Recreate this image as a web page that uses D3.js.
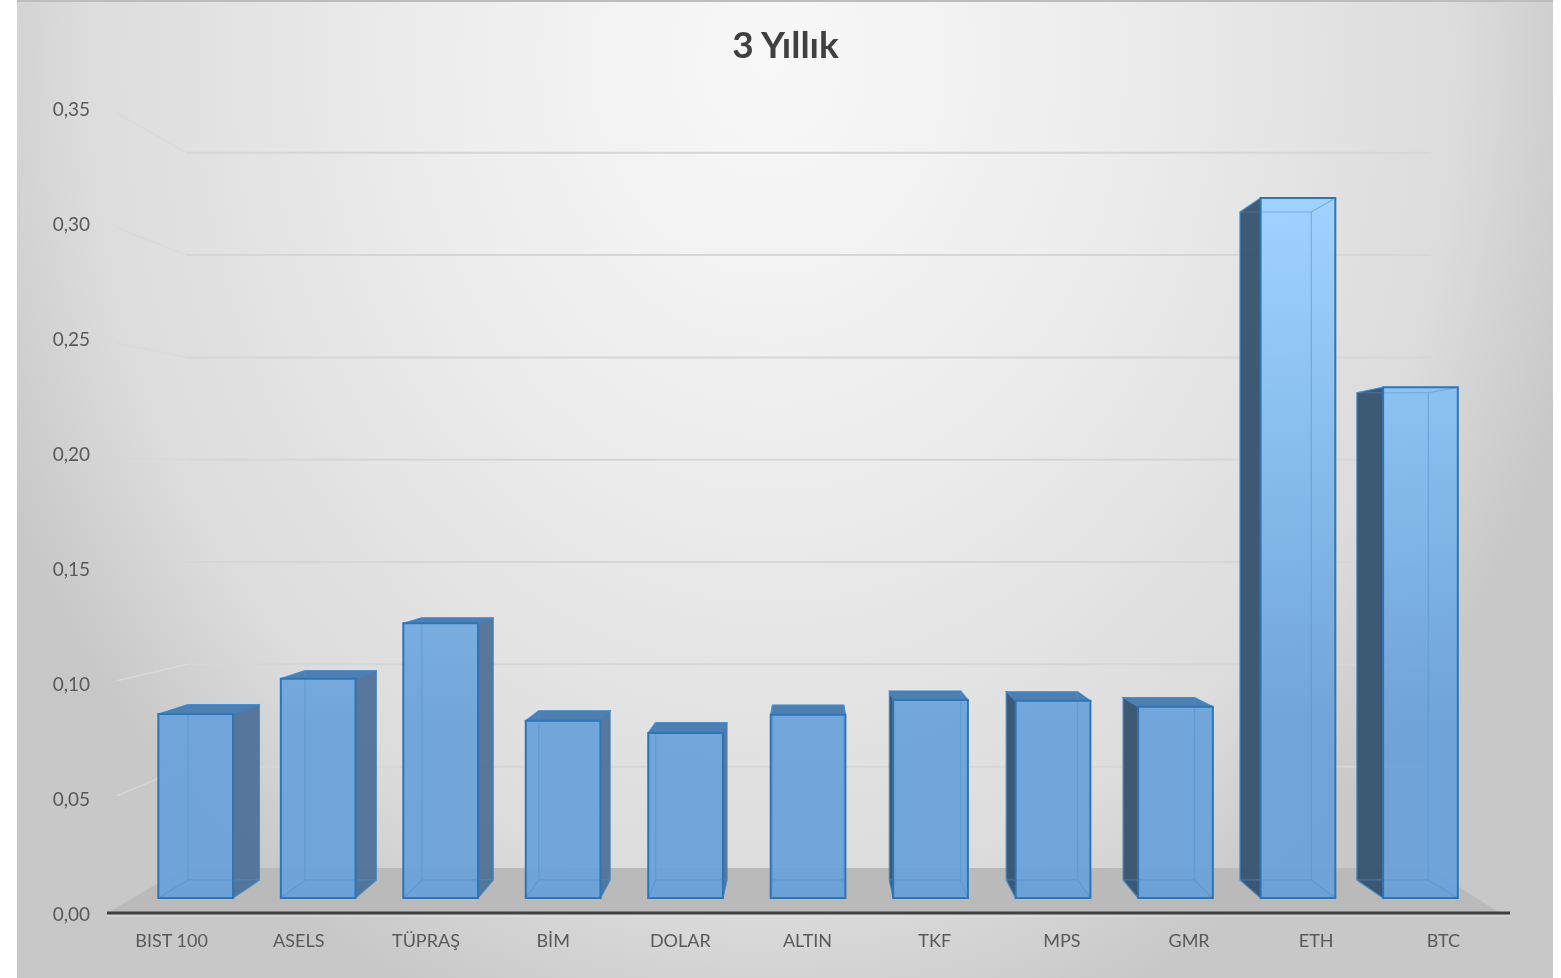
<!DOCTYPE html>
<html lang="tr"><head><meta charset="utf-8">
<style>html,body{margin:0;padding:0;background:#fff;overflow:hidden}svg{display:block;filter:blur(0.45px)}text{font-family:Lato,"Open Sans",sans-serif}</style>
<script src="https://cdn.jsdelivr.net/npm/d3@7"></script></head><body>
<script>
const categories=["BIST 100","ASELS","TÜPRAŞ","BİM","DOLAR","ALTIN","TKF","MPS","GMR","ETH","BTC"];
const values=[0.083,0.099,0.124,0.080,0.0745,0.0827,0.0894,0.089,0.0863,0.316,0.2305];
const tickValues=[0,0.05,0.10,0.15,0.20,0.25,0.30,0.35];
const tickLabels=["0,00","0,05","0,10","0,15","0,20","0,25","0,30","0,35"];
const title="3 Yıllık";

const W=1561,H=978;
const svg=d3.select("body").append("svg").attr("width",W).attr("height",H);
const defs=svg.append("defs");
const bg=defs.append("radialGradient").attr("id","bg").attr("gradientUnits","userSpaceOnUse")
 .attr("cx",0).attr("cy",0).attr("r",1).attr("gradientTransform","translate(770,60) scale(840,1020)");
[[0,"#f8f8f8"],[0.4,"#ededed"],[0.82,"#dcdcdc"],[1,"#c8c8c8"]].forEach(s=>bg.append("stop").attr("offset",s[0]).attr("stop-color",s[1]));
const fg=defs.append("linearGradient").attr("id","front").attr("gradientUnits","userSpaceOnUse").attr("x1",0).attr("x2",0).attr("y1",198).attr("y2",720);
[[0,"#9bd1ff"],[0.45,"#82bcf0"],[1,"#6aa1d9"]].forEach(s=>fg.append("stop").attr("offset",s[0]).attr("stop-color",s[1]));
svg.append("rect").attr("x",17).attr("y",1).attr("width",1536).attr("height",977).attr("fill","url(#bg)");
svg.append("line").attr("x1",17).attr("x2",1553).attr("y1",1).attr("y2",1).attr("stroke","#bdbdbd").attr("stroke-width",2);

// scales in the plane of the axes, plus a perspective projection toward a vanishing point
const x=d3.scaleBand().domain(categories).range([108.5,1507.5]).paddingInner(0.39).paddingOuter(0.195);
const y=d3.scaleLinear().domain([0,0.35]).range([913,108]);
const vx=810,vy=505;
const wallK=0.8897,frontK=0.963,backK=0.919;
const P=(px,py,k)=>[vx+(px-vx)*k,vy+(py-vy)*k];
const line=d3.line();

// walls
const grid=svg.append("g").attr("transform","translate(2,1)");
tickValues.slice(1).forEach(v=>{
  const a=P(107,y(v),1),b=P(107,y(v),wallK),c=P(1506,y(v),wallK);
  grid.append("path").attr("d",line([[a[0]+8,a[1]+4*(v>0.12?1:-0.8)],b])).attr("fill","none").attr("stroke",v>0.12?"#d4d4d4":"#ececec").attr("stroke-width",1.5).attr("opacity",0.4);
  grid.append("path").attr("d",line([b,c])).attr("fill","none").attr("stroke","#d6d6d6").attr("stroke-width",2);
});

// floor
svg.append("path").attr("d",line([P(107,y(0),1),P(107,y(0),wallK),P(1506,y(0),wallK),P(1500,y(0),1)])+"Z").attr("fill","#bababa");

// bars
const bars=svg.append("g").selectAll("g").data(categories.map((c,i)=>({c,v:values[i]}))).join("g");
bars.each(function(d){
  const g=d3.select(this);
  const l=x(d.c),r=l+x.bandwidth(),t=y(d.v),b=y(0);
  const fl=P(l,t,frontK),fr=P(r,t,frontK),frb=P(r,b,frontK),flb=P(l,b,frontK);
  const bl=P(l,t,backK),br=P(r,t,backK),brb=P(r,b,backK),blb=P(l,b,backK);
  const edge="#2e75b6";
  g.append("path").attr("d",line([flb,frb,brb,blb])+"Z").attr("fill","#5f9ad6").attr("opacity",0.55);
  if(br[0]>fr[0]) g.append("path").attr("d",line([fr,br,brb,frb])+"Z").attr("fill","#4f7298").attr("fill-opacity",0.95).attr("stroke",edge).attr("stroke-width",1.2).attr("stroke-opacity",0.7);
  if(bl[0]<fl[0]) g.append("path").attr("d",line([fl,bl,blb,flb])+"Z").attr("fill","#39556f").attr("fill-opacity",0.97).attr("stroke",edge).attr("stroke-width",1.2).attr("stroke-opacity",0.7);
  if(bl[1]<fl[1]) g.append("path").attr("d",line([fl,fr,br,bl])+"Z").attr("fill","#4e7fb1").attr("stroke",edge).attr("stroke-width",1.2).attr("stroke-opacity",0.7);
  g.append("path").attr("d",line([fl,fr,frb,flb])+"Z").attr("fill","url(#front)").attr("fill-opacity",0.93);
  const inner=g.append("g").attr("fill","none").attr("stroke","#4f90d2").attr("stroke-width",1.2).attr("stroke-opacity",0.5);
  inner.append("path").attr("d",line([bl,br,brb,blb])+"Z");
  inner.append("path").attr("d",line([fl,bl]));
  inner.append("path").attr("d",line([fr,br]));
  inner.append("path").attr("d",line([frb,brb]));
  inner.append("path").attr("d",line([flb,blb]));
  g.append("path").attr("d",line([fl,fr,frb,flb])+"Z").attr("fill","none").attr("stroke",edge).attr("stroke-width",2);
});

// axes
const yAxis=d3.axisLeft(y).tickValues(tickValues).tickSize(0).tickPadding(0).tickFormat((v,i)=>tickLabels[i]);
const ya=svg.append("g").attr("transform","translate(90,1)").call(yAxis);
ya.select(".domain").remove();
ya.selectAll("text").attr("font-size",19).attr("fill","#595959");
const xAxis=d3.axisBottom(x).tickSize(0).tickPadding(21);
const xa=svg.append("g").attr("transform",`translate(-0.5,${y(0)})`).call(xAxis);
xa.select(".domain").remove();
xa.selectAll("text").attr("font-size",18).attr("fill","#595959");
svg.append("path").attr("d",line([[107,y(0)],[1510,y(0)]])).attr("stroke","#404040").attr("stroke-width",3);
svg.append("path").attr("d",line([[107,y(0)+3],[1510,y(0)+3]])).attr("stroke","#e4e4e4").attr("stroke-width",1).attr("opacity",0.7);

svg.append("text").attr("x",785.5).attr("y",58).attr("text-anchor","middle").attr("font-size",37).attr("font-weight",700).attr("fill","#404040").text(title);
</script></body></html>
